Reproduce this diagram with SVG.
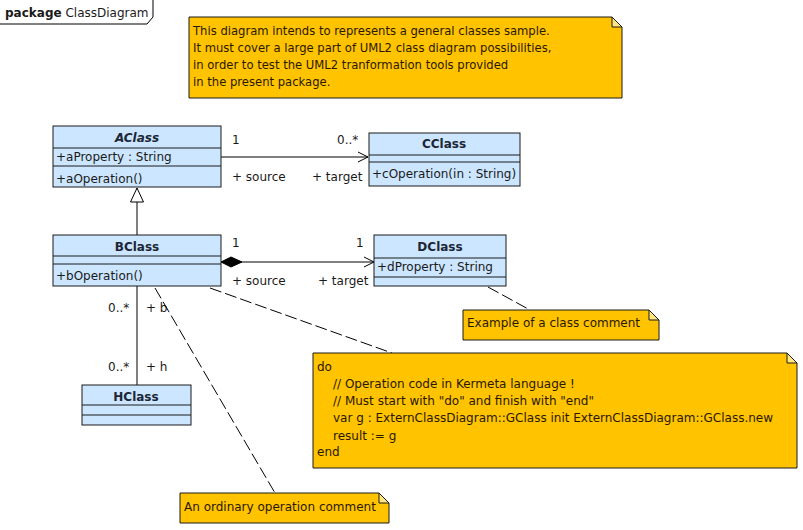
<svg xmlns="http://www.w3.org/2000/svg" width="803" height="530" viewBox="0 0 803 530">
  <defs>
    <style>
      text { font-family: "DejaVu Sans", "Liberation Sans", sans-serif; font-size: 12px; fill: #1a1a1a; }
      .title { font-weight: bold; text-anchor: middle; fill: #1c2636; }
      .ital { font-style: italic; }
      .cls { fill: #cce6ff; stroke: #1a1a1a; stroke-width: 1; }
      .sep { stroke: #1a1a1a; stroke-width: 1; }
      .note { fill: #ffc300; stroke: #1a1a1a; stroke-width: 1; }
      .fold { fill: #ffe680; stroke: #1a1a1a; stroke-width: 1; }
      .ntext { fill: #2a1800; }
      .small { font-size: 11.6px; }
      .edge { stroke: #000; stroke-width: 1; fill: none; }
      .anchor { stroke: #000; stroke-width: 1; fill: none; stroke-dasharray: 12 4; }
    </style>
    <marker id="open" markerWidth="12" markerHeight="12" refX="11" refY="6" orient="auto" markerUnits="userSpaceOnUse">
      <path d="M1,1 L11,6 L1,11" fill="none" stroke="#000" stroke-width="1"/>
    </marker>
    <marker id="tri" markerWidth="16" markerHeight="16" refX="15" refY="8" orient="auto" markerUnits="userSpaceOnUse">
      <path d="M1,1.5 L15,8 L1,14.5 Z" fill="#fff" stroke="#000" stroke-width="1"/>
    </marker>
    <marker id="diamond" markerWidth="24" markerHeight="12" refX="1" refY="6" orient="auto" markerUnits="userSpaceOnUse">
      <path d="M1,6 L11,1 L22,6 L11,11 Z" fill="#000" stroke="#000" stroke-width="1"/>
    </marker>
  </defs>

  <rect width="803" height="530" fill="#fff"/>

  <!-- package frame tab -->
  <g id="package">
    <path d="M0,24 L147,24 L153,17 L153,0" fill="none" stroke="#000" stroke-width="1"/>
    <text x="5" y="17"><tspan font-weight="bold">package</tspan> ClassDiagram</text>
  </g>

  <!-- connectors -->
  <g id="connectors">
    <!-- AClass -> CClass -->
    <line class="edge" x1="221" y1="157" x2="368" y2="157" marker-end="url(#open)"/>
    <text x="232" y="144">1</text>
    <text x="337" y="144">0..*</text>
    <text x="232" y="181">+ source</text>
    <text x="312" y="181">+ target</text>

    <!-- BClass generalizes AClass -->
    <line class="edge" x1="137" y1="235" x2="137" y2="188" marker-end="url(#tri)"/>

    <!-- BClass composition DClass -->
    <line class="edge" x1="221" y1="262" x2="374" y2="262" marker-start="url(#diamond)" marker-end="url(#open)"/>
    <text x="232" y="247">1</text>
    <text x="356" y="247">1</text>
    <text x="232" y="285">+ source</text>
    <text x="318" y="285">+ target</text>

    <!-- BClass - HClass -->
    <line class="edge" x1="137" y1="286" x2="137" y2="385"/>
    <text x="108" y="312">0..*</text>
    <text x="146" y="312">+ b</text>
    <text x="108" y="371">0..*</text>
    <text x="146" y="371">+ h</text>

    <!-- comment anchors -->
    <line class="anchor" x1="488" y1="287" x2="530" y2="310"/>
    <line class="anchor" x1="210" y1="288" x2="392" y2="353"/>
    <line class="anchor" x1="155" y1="288" x2="275" y2="493"/>
  </g>

  <!-- general note -->
  <g id="note-general">
    <path class="note" d="M189,17 L612,17 L622,27 L622,98 L189,98 Z"/>
    <path class="fold" d="M612,17 L612,27 L622,27 Z"/>
    <text class="ntext small" x="193" y="35">This diagram intends to represents a general classes sample.</text>
    <text class="ntext small" x="193" y="52">It must cover a large part of UML2 class diagram possibilities,</text>
    <text class="ntext small" x="193" y="69">in order to test the UML2 tranformation tools provided</text>
    <text class="ntext small" x="193" y="86">in the present package.</text>
  </g>

  <g id="AClass">
    <rect class="cls" x="53" y="126" width="168" height="61"/>
    <text class="title ital" x="137" y="142">AClass</text>
    <line class="sep" x1="53" y1="148" x2="221" y2="148"/>
    <text x="56" y="161">+aProperty : String</text>
    <line class="sep" x1="53" y1="166" x2="221" y2="166"/>
    <text x="56" y="183">+aOperation()</text>
  </g>

  <g id="CClass">
    <rect class="cls" x="369" y="133" width="151" height="53"/>
    <text class="title" x="444" y="148">CClass</text>
    <line class="sep" x1="369" y1="155" x2="520" y2="155"/>
    <line class="sep" x1="369" y1="162" x2="520" y2="162"/>
    <text x="372" y="178">+cOperation(in : String)</text>
  </g>

  <g id="BClass">
    <rect class="cls" x="53" y="235" width="168" height="51"/>
    <text class="title" x="137" y="251">BClass</text>
    <line class="sep" x1="53" y1="256" x2="221" y2="256"/>
    <line class="sep" x1="53" y1="264" x2="221" y2="264"/>
    <text x="56" y="280">+bOperation()</text>
  </g>

  <g id="DClass">
    <rect class="cls" x="374" y="235" width="132" height="51"/>
    <text class="title" x="440" y="251">DClass</text>
    <line class="sep" x1="374" y1="258" x2="506" y2="258"/>
    <text x="377" y="271">+dProperty : String</text>
    <line class="sep" x1="374" y1="277" x2="506" y2="277"/>
  </g>

  <g id="HClass">
    <rect class="cls" x="82" y="385" width="109" height="40"/>
    <text class="title" x="136" y="401">HClass</text>
    <line class="sep" x1="82" y1="405" x2="191" y2="405"/>
    <line class="sep" x1="82" y1="415" x2="191" y2="415"/>
  </g>

  <g id="note-class">
    <path class="note" d="M463,310 L649,310 L659,320 L659,340 L463,340 Z"/>
    <path class="fold" d="M649,310 L649,320 L659,320 Z"/>
    <text class="ntext" x="467" y="327">Example of a class comment</text>
  </g>

  <g id="note-code">
    <path class="note" d="M313,353 L787,353 L797,363 L797,468 L313,468 Z"/>
    <path class="fold" d="M787,353 L787,363 L797,363 Z"/>
    <text class="ntext" x="317" y="371">do</text>
    <text class="ntext" x="333" y="388">// Operation code in Kermeta language !</text>
    <text class="ntext" x="333" y="405">// Must start with "do" and finish with "end"</text>
    <text class="ntext" x="333" y="422">var g : ExternClassDiagram::GClass init ExternClassDiagram::GClass.new</text>
    <text class="ntext" x="333" y="440">result := g</text>
    <text class="ntext" x="317" y="456">end</text>
  </g>

  <g id="note-operation">
    <path class="note" d="M180,493 L379,493 L389,503 L389,523 L180,523 Z"/>
    <path class="fold" d="M379,493 L379,503 L389,503 Z"/>
    <text class="ntext" x="184" y="511">An ordinary operation comment</text>
  </g>
</svg>
